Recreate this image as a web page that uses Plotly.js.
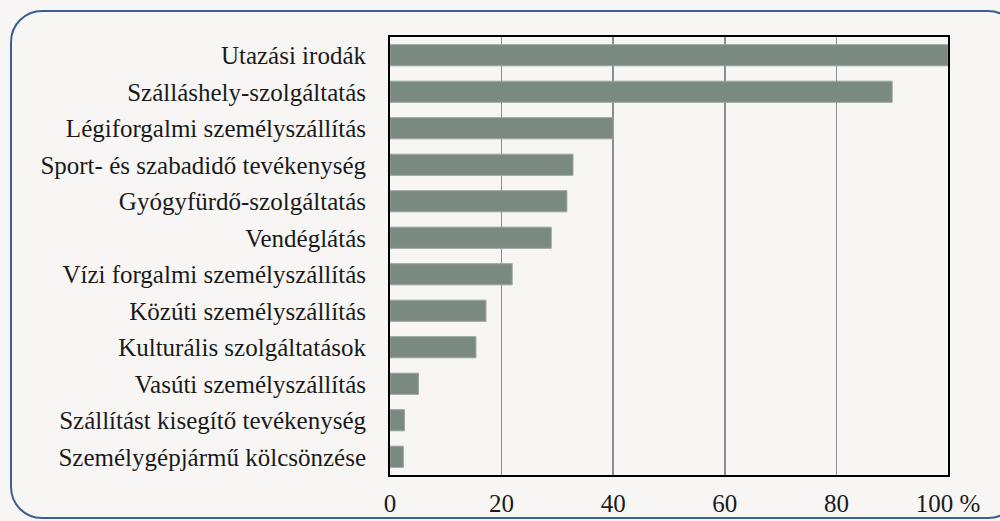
<!DOCTYPE html>
<html><head><meta charset="utf-8">
<script src="https://cdn.plot.ly/plotly-3.0.1.min.js"></script>
<style>
html,body{margin:0;padding:0;background:#f7f6f5;width:1000px;height:521px;overflow:hidden;}
#frame{position:absolute;left:10px;top:10px;width:1010px;height:509px;border:2px solid #3a5f94;border-radius:32px;box-sizing:border-box;}
#chart{position:absolute;left:0;top:0;width:1000px;height:521px;}
</style></head><body>
<div id="frame"></div>
<div id="chart"></div>
<script>
const categories = ["Utazási irodák","Szálláshely-szolgáltatás","Légiforgalmi személyszállítás","Sport- és szabadidő tevékenység","Gyógyfürdő-szolgáltatás","Vendéglátás","Vízi forgalmi személyszállítás","Közúti személyszállítás","Kulturális szolgáltatások","Vasúti személyszállítás","Szállítást kisegítő tevékenység","Személygépjármű kölcsönzése"];
const values = [100, 90, 40, 32.8, 31.7, 28.9, 21.9, 17.2, 15.4, 5.1, 2.6, 2.4];
const tickVals = [0,20,40,60,80,100];
const tickText = ["0","20","40","60","80","100 %"];

const font = {family:"Liberation Serif, DejaVu Serif, serif", size:25, color:"#1a1a1a"};
Plotly.newPlot("chart", [{
  type:"bar", orientation:"h",
  x: values.slice().reverse(), y: categories.slice().reverse(),
  marker:{color:"#7a8a82", line:{color:"#9aa69f", width:1}},
  hoverinfo:"x+y"
}], {
  width:1000, height:521,
  margin:{l:390, r:52, t:37, b:46},
  paper_bgcolor:"rgba(0,0,0,0)", plot_bgcolor:"#f7f6f5",
  font: font,
  bargap:0.42,
  showlegend:false,
  xaxis:{range:[0,100], tickvals:tickVals, ticktext:tickText, showgrid:true, gridcolor:"#8c8c94", gridwidth:1.5,
         showline:true, linecolor:"#000", linewidth:2, mirror:true, zeroline:false, ticks:"", ticklabelstandoff:5, tickfont:font},
  yaxis:{showline:true, linecolor:"#000", linewidth:2, mirror:true, showgrid:false, ticks:"", ticklabelstandoff:17, tickfont:font, automargin:false}
}, {displayModeBar:false, staticPlot:true});
</script>
</body></html>
